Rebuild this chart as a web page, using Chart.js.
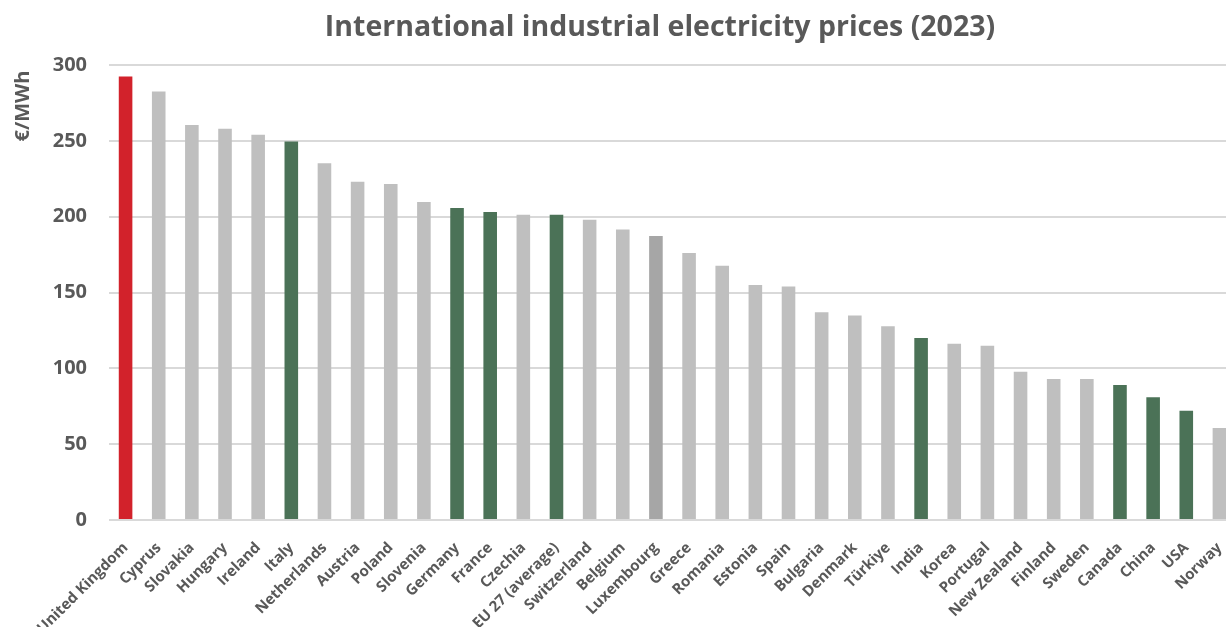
<!DOCTYPE html>
<html>
<head>
<meta charset="utf-8">
<script src="https://cdn.jsdelivr.net/npm/chart.js"></script>
<style>
    html, body { margin: 0; padding: 0; background: #fff; overflow: hidden; }
    #wrap { position: relative; width: 1236px; height: 627px; }
</style>
</head>
<body>
<div id="wrap"><canvas id="prices-chart"></canvas></div>
<script>
const countries = [
    'United Kingdom', 'Cyprus', 'Slovakia', 'Hungary', 'Ireland', 'Italy', 'Netherlands',
    'Austria', 'Poland', 'Slovenia', 'Germany', 'France', 'Czechia', 'EU 27 (average)',
    'Switzerland', 'Belgium', 'Luxembourg', 'Greece', 'Romania', 'Estonia', 'Spain',
    'Bulgaria', 'Denmark', 'Türkiye', 'India', 'Korea', 'Portugal', 'New Zealand',
    'Finland', 'Sweden', 'Canada', 'China', 'USA', 'Norway'
];
const pricesEurMwh = [
    292.5, 282.5, 260.5, 258, 254, 249.5, 235.3,
    223, 221.5, 209.6, 205.7, 203, 201.3, 201.3,
    198, 191.5, 187.2, 176, 167.6, 155, 154,
    136.9, 134.9, 127.7, 120, 116.2, 114.9, 97.8,
    93, 93, 89, 81, 72, 60.6
];
const yTicks = [0, 50, 100, 150, 200, 250, 300];
const highlightCountry = ['United Kingdom'];
const comparisonGroup = ['Italy', 'Germany', 'France', 'EU 27 (average)', 'India', 'Canada', 'China', 'USA'];
const mutedCountry = ['Luxembourg'];

const chartTitle = 'International industrial electricity prices (2023)';
const axisTitle = '€/MWh';
const textColor = '#595959';
const fontFamily = "'Open Sans', 'Noto Sans', sans-serif";

function barColor(name) {
    if (highlightCountry.includes(name)) return '#D2222B';
    if (comparisonGroup.includes(name)) return '#4B7257';
    if (mutedCountry.includes(name)) return '#A6A6A6';
    return '#BFBFBF';
}

// Title and rotated unit label drawn straight onto the canvas
const headings = {
    id: 'headings',
    afterDraw(chart) {
        const ctx = chart.ctx;
        ctx.save();
        ctx.fillStyle = textColor;
        ctx.textBaseline = 'middle';
        ctx.textAlign = 'center';
        ctx.font = "bold 28.5px " + fontFamily;
        ctx.fillText(chartTitle, 660, 28);

        ctx.translate(23, 106);
        ctx.rotate(-Math.PI / 2);
        ctx.font = "bold 20px " + fontFamily;
        ctx.fillText(axisTitle, 0, 0);
        ctx.restore();
    }
};

document.addEventListener('DOMContentLoaded', function() {
    const ctx = document.getElementById('prices-chart').getContext('2d');

    new Chart(ctx, {
        type: 'bar',
        data: {
            labels: countries,
            datasets: [{
                data: pricesEurMwh,
                backgroundColor: countries.map(barColor),
                barPercentage: 0.41,
                categoryPercentage: 1
            }]
        },
        options: {
            responsive: true,
            maintainAspectRatio: false,
            animation: false,
            layout: { padding: { top: 65, right: 0, bottom: 0, left: 0 } },
            plugins: {
                legend: { display: false },
                title: { display: false },
                tooltip: { enabled: false }
            },
            scales: {
                x: {
                    grid: { display: false },
                    border: { display: false },
                    ticks: {
                        color: textColor,
                        font: { family: fontFamily, size: 15, weight: 'bold' },
                        minRotation: 45,
                        maxRotation: 45,
                        autoSkip: false,
                        padding: 11
                    },
                    afterFit: function(scale) {
                        scale.height = 107;
                        scale.paddingLeft = 0;
                        scale.paddingRight = 0;
                    }
                },
                y: {
                    min: 0,
                    max: 300,
                    border: { display: false },
                    grid: { color: '#D9D9D9', lineWidth: 2, drawTicks: false },
                    afterBuildTicks: function(scale) {
                        scale.ticks = yTicks.map(v => ({ value: v }));
                    },
                    ticks: {
                        color: textColor,
                        font: { family: fontFamily, size: 20, weight: 'bold' },
                        padding: 22
                    },
                    afterFit: function(scale) {
                        scale.width = 109;
                    }
                }
            }
        },
        plugins: [headings]
    });
});
</script>
</body>
</html>
